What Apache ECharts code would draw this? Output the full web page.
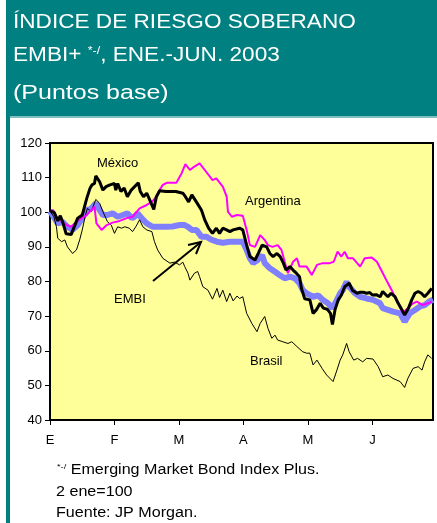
<!DOCTYPE html>
<html lang="es">
<head>
<meta charset="UTF-8">
<title>Índice de riesgo soberano EMBI+</title>
<script src="https://cdn.jsdelivr.net/npm/echarts@6/dist/echarts.min.js"></script>
<style>
  html, body { margin: 0; padding: 0; background: #fff; }
  #chart { width: 437px; height: 523px; }
</style>
</head>
<body>
<div id="chart"></div>
<script>
// x = months since 2 Jan 2003 (0 = E, 1 = F, ...), y = index (2 ene = 100)
var monthLabels = ['E', 'F', 'M', 'A', 'M', 'J'];
var yTicks = [40, 50, 60, 70, 80, 90, 100, 110, 120];

var mexico = [[0,100.5],[0.07,99.8],[0.12,97.5],[0.16,99],[0.2,97],[0.25,93.8],[0.33,93.6],[0.38,96],[0.43,98.3],[0.5,99.2],[0.57,104],[0.62,106.9],[0.65,107.9],[0.69,108.3],[0.71,110.5],[0.77,108.8],[0.82,106.4],[0.87,107.4],[0.93,107.9],[1.0,108.3],[1.02,106.4],[1.05,108.3],[1.1,106],[1.15,107],[1.2,104.5],[1.26,106.4],[1.37,108.5],[1.4,106],[1.45,104.5],[1.5,105.5],[1.56,103],[1.61,100.8],[1.65,104.5],[1.7,106.2],[1.8,106],[1.95,106],[2.06,105.5],[2.1,104.5],[2.15,103],[2.2,105],[2.27,103],[2.35,100.6],[2.4,97.8],[2.46,95.4],[2.52,93.9],[2.58,95.4],[2.63,93.9],[2.68,95.4],[2.73,95],[2.79,94.4],[2.84,94.9],[2.94,95.4],[2.99,94.9],[3.05,90.5],[3.1,87.2],[3.18,86.2],[3.23,88.1],[3.29,90.5],[3.36,90],[3.41,88.1],[3.46,87.2],[3.52,88.1],[3.57,87.2],[3.62,85.3],[3.66,83.3],[3.72,84.3],[3.77,83.3],[3.82,82.4],[3.87,81.4],[3.9,78],[3.95,75],[4.03,74.7],[4.08,70.8],[4.13,71.8],[4.19,73.7],[4.24,72.3],[4.3,72],[4.35,70.8],[4.38,67.6],[4.42,71.8],[4.47,74.7],[4.52,76.1],[4.57,78.5],[4.64,79.5],[4.69,77.5],[4.76,76.6],[4.81,76.9],[4.86,76.9],[4.91,76.6],[4.96,76.8],[5.0,76.1],[5.06,76.2],[5.12,75.6],[5.16,77.1],[5.24,75.6],[5.29,76.6],[5.35,75.6],[5.4,73.7],[5.46,71.8],[5.5,70.3],[5.56,72.3],[5.61,74.7],[5.66,76.6],[5.71,77.1],[5.76,76.6],[5.81,75.6],[5.86,76.6],[5.92,78]];

var argentina = [[0,100.3],[0.05,100.6],[0.1,98.7],[0.18,97.3],[0.26,96.3],[0.33,95.8],[0.41,97.3],[0.49,98.3],[0.57,99.2],[0.64,100.6],[0.69,101.6],[0.72,96.8],[0.8,94.9],[0.88,96.3],[0.97,97],[1.08,97.5],[1.19,98.3],[1.28,98.7],[1.39,101.1],[1.5,102.1],[1.58,103],[1.65,104.5],[1.7,106.4],[1.75,107.9],[1.81,108.5],[1.96,108.5],[2.04,111.2],[2.1,113.9],[2.17,112.2],[2.24,113.2],[2.32,114.1],[2.4,112.2],[2.48,110.3],[2.52,109.3],[2.58,109.8],[2.68,107.4],[2.74,104.5],[2.76,100.2],[2.82,98.7],[2.9,99.2],[2.99,99],[3.05,94.9],[3.1,90.5],[3.18,90],[3.26,93.4],[3.33,92],[3.38,90.5],[3.45,90],[3.53,90.5],[3.59,89.1],[3.64,85.7],[3.69,82.4],[3.77,85.7],[3.83,86.7],[3.87,84.3],[3.98,84.3],[4.06,81.9],[4.14,84.8],[4.23,85.3],[4.34,85.3],[4.4,85.7],[4.46,88.6],[4.52,87.2],[4.57,88.6],[4.62,86.7],[4.7,86.7],[4.81,84.3],[4.88,86.7],[4.99,86.9],[5.07,85.7],[5.15,82.8],[5.23,79.9],[5.3,77.5],[5.35,75.5],[5.4,73.7],[5.47,70.8],[5.52,71.8],[5.63,73.7],[5.69,74.2],[5.78,73.2],[5.86,73.7],[5.92,74.2]];

var brasil = [[0,100.3],[0.06,98.7],[0.1,95.8],[0.12,92.5],[0.18,91.5],[0.23,92],[0.27,90],[0.35,88.1],[0.41,89.1],[0.46,92],[0.5,94.9],[0.55,99.2],[0.58,101.1],[0.64,100.2],[0.71,103.7],[0.77,102.6],[0.82,100.2],[0.89,97.3],[0.95,96.3],[1.0,93.9],[1.05,95.8],[1.11,95.4],[1.16,95.8],[1.23,95.4],[1.28,94.4],[1.33,95.8],[1.39,97.8],[1.44,95.8],[1.5,94.9],[1.58,94.4],[1.62,91.5],[1.67,89.1],[1.75,86.7],[1.86,85.3],[1.93,85.6],[2.01,84.8],[2.06,85.6],[2.09,84.3],[2.14,82.4],[2.17,80.4],[2.24,82.4],[2.29,82.9],[2.32,81.4],[2.37,78.5],[2.45,77.5],[2.52,74.9],[2.59,78],[2.63,75.4],[2.68,77.5],[2.74,74.2],[2.79,76.6],[2.84,74.4],[2.9,75.8],[2.94,75.1],[2.99,75.6],[3.05,70.8],[3.13,67.9],[3.21,65.5],[3.26,67.9],[3.33,69.9],[3.38,66.5],[3.44,63.6],[3.49,64.5],[3.53,63.1],[3.61,62.6],[3.69,62.1],[3.75,62.6],[3.83,61.2],[3.92,59.7],[3.98,59.3],[4.03,59.3],[4.08,55.9],[4.14,57.3],[4.22,54.9],[4.29,53],[4.39,51.1],[4.45,54.4],[4.5,57.3],[4.54,58.8],[4.6,62.1],[4.64,59.7],[4.71,57.3],[4.77,57.8],[4.85,56.8],[4.91,57.8],[5.01,57.6],[5.09,55.4],[5.16,52.5],[5.24,53],[5.32,52],[5.43,51.1],[5.5,49.4],[5.55,52],[5.63,54.9],[5.71,55.4],[5.77,54.4],[5.81,56.8],[5.86,58.8],[5.92,57.8]];

var embi = [[0,100.3],[0.07,98.3],[0.12,96.8],[0.19,97.3],[0.27,95.8],[0.35,94.9],[0.43,96.3],[0.5,98.3],[0.57,100.6],[0.64,101.1],[0.71,102.6],[0.77,100.6],[0.82,99.2],[0.89,99.2],[0.97,99.7],[1.05,98.7],[1.13,99.2],[1.2,99.7],[1.27,98.3],[1.31,98.7],[1.36,99.7],[1.42,98.3],[1.5,96.8],[1.59,95.8],[1.81,95.8],[1.9,95.9],[2.01,96.3],[2.09,96.3],[2.14,95.8],[2.2,94.9],[2.27,94.9],[2.35,92.9],[2.43,92.9],[2.51,92],[2.59,91.5],[2.68,91.2],[2.79,91.5],[2.99,91.5],[3.05,89.1],[3.1,86.7],[3.15,85.3],[3.22,86.2],[3.29,87.6],[3.33,85.3],[3.41,83.8],[3.49,82.8],[3.56,81.9],[3.64,80.9],[3.72,81.4],[3.8,80.9],[3.87,79.5],[3.92,77.5],[3.98,76.6],[4.08,75.6],[4.16,76],[4.23,74.7],[4.31,73.7],[4.38,72.3],[4.45,74.7],[4.5,76.6],[4.54,77.5],[4.6,79.9],[4.64,78.5],[4.73,76.6],[4.81,75.6],[4.91,75.1],[5.01,74.7],[5.12,73.7],[5.16,72.3],[5.24,71.8],[5.32,71.3],[5.43,70.8],[5.5,68.4],[5.58,70.8],[5.66,71.8],[5.74,72.8],[5.81,73.2],[5.88,74.2],[5.94,74.7]];

var FONT = '"Liberation Sans", Arial, sans-serif';
var TEAL = '#008080';

var chart = echarts.init(document.getElementById('chart'), null, { renderer: 'canvas' });

// text placed at (x, y), optionally stretched horizontally like the original scan
function txt(x, y, text, size, color, sx, rich) {
    var s = { x: 0, y: 0, text: text, fill: color, font: size + 'px ' + FONT, verticalAlign: 'middle' };
    if (rich) s.rich = rich;
    return { type: 'text', z: 100, x: x, y: y, scaleX: sx || 1, style: s };
}

chart.setOption({
    animation: false,
    backgroundColor: '#fff',
    grid: { left: 50, right: 4, top: 143, bottom: 103, show: true,
            backgroundColor: '#ffff99', borderColor: '#000', borderWidth: 2 },
    xAxis: {
        type: 'value', min: 0, max: 5.94, interval: 1,
        axisLine: { lineStyle: { color: '#000', width: 2 } },
        axisTick: { length: 5, lineStyle: { color: '#000' } },
        splitLine: { show: false },
        axisLabel: { margin: 14, color: '#000', fontSize: 13, fontFamily: FONT, showMaxLabel: false,
            formatter: function (v) { return Number.isInteger(v) ? (monthLabels[v] || '') : ''; } }
    },
    yAxis: {
        type: 'value', min: yTicks[0], max: yTicks[yTicks.length - 1], interval: 10,
        axisLine: { show: true, lineStyle: { color: '#000', width: 2 } },
        axisTick: { show: true, length: 5, lineStyle: { color: '#000' } },
        splitLine: { show: false },
        axisLabel: { margin: 8, color: '#000', fontSize: 13, fontFamily: FONT }
    },
    series: [
        { name: 'EMBI', type: 'line', data: embi, showSymbol: false,
          lineStyle: { color: '#8080ff', width: 6 } },
        { name: 'Brasil', type: 'line', data: brasil, showSymbol: false,
          lineStyle: { color: '#000', width: 1 } },
        { name: 'Argentina', type: 'line', data: argentina, showSymbol: false,
          lineStyle: { color: '#ff00ff', width: 2 } },
        { name: 'México', type: 'line', data: mexico, showSymbol: false,
          lineStyle: { color: '#000', width: 3 } }
    ],
    graphic: [
        // header box and left frame
        { type: 'rect', shape: { x: 6, y: 0, width: 431, height: 116 }, style: { fill: TEAL } },
        { type: 'rect', shape: { x: 10, y: 116, width: 427, height: 2 }, style: { fill: '#7fbfbf' } },
        { type: 'rect', shape: { x: 6, y: 116, width: 4, height: 407 }, style: { fill: TEAL } },
        txt(13, 22, 'ÍNDICE DE RIESGO SOBERANO', 20, '#fff', 1.13),
        txt(13, 55, 'EMBI+ {sup|*-/}, ENE.-JUN. 2003', 20, '#fff', 1.13,
            { sup: { fontSize: 11, fill: '#fff', padding: [0, 0, 9, 0], fontFamily: FONT } }),
        txt(13, 93, '(Puntos base)', 20, '#fff', 1.25),
        // series labels
        txt(97, 163, 'México', 13, '#000'),
        txt(245, 201, 'Argentina', 13, '#000'),
        txt(114, 299, 'EMBI', 13, '#000'),
        txt(250, 361, 'Brasil', 13, '#000'),
        // arrow pointing to EMBI
        { type: 'line', z: 100, shape: { x1: 153, y1: 281, x2: 201, y2: 242 }, style: { stroke: '#000', lineWidth: 2 } },
        { type: 'polyline', z: 100, shape: { points: [[188, 245], [201, 242], [196, 254]] }, style: { stroke: '#000', lineWidth: 2, fill: null } },
        // footnotes
        txt(57, 470, '{sup|*-/} Emerging Market Bond Index Plus.', 14, '#000', 1.15,
            { sup: { fontSize: 8, fill: '#000', padding: [0, 0, 7, 0], fontFamily: FONT } }),
        txt(56, 492, '2 ene=100', 14, '#000', 1.15),
        txt(56, 513, 'Fuente: JP Morgan.', 14, '#000', 1.15)
    ]
});
</script>
</body>
</html>
